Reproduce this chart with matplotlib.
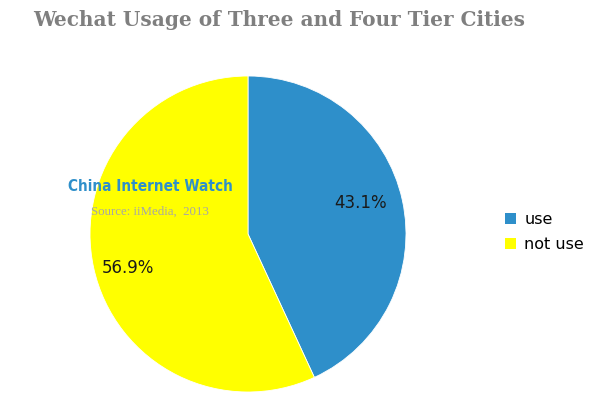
import matplotlib
matplotlib.use("Agg")
import matplotlib.pyplot as plt
from matplotlib.patches import Patch

labels = ["use", "not use"]
values = [43.1, 56.9]
colors = ["#2E8FCA", "#FFFF00"]

fig = plt.figure(figsize=(6, 4.11), dpi=100)
W, H = 600, 411

# pie axes: center (248, 234), radius 158 in pixel terms
cx, cy, r = 248, 234, 158
ax = fig.add_axes([(cx - r) / W, 1 - (cy + r) / H, 2 * r / W, 2 * r / H])
wedges, _ = ax.pie(values, colors=colors, startangle=90, counterclock=False,
                   wedgeprops=dict(linewidth=0.6, edgecolor="white"))
ax.set_aspect("equal")
ax.set_xlim(-1, 1)
ax.set_ylim(-1, 1)

# percentage labels
label_pos = [(361, 203), (128, 268)]
for (px, py), v in zip(label_pos, values):
    fig.text(px / W, 1 - py / H, f"{v}%", ha="center", va="center",
             fontsize=12, color="#1a1a1a", family="DejaVu Sans")

fig.text(279 / W, 1 - 20 / H, "Wechat Usage of Three and Four Tier Cities",
         ha="center", va="center", fontsize=14.4, fontweight="bold",
         color="#7f7f7f", family="DejaVu Serif")

fig.text(150 / W, 1 - 186 / H, "China Internet Watch", ha="center", va="center",
         fontsize=11, fontweight="bold", fontstretch="condensed",
         color="#2E8FCA", family="DejaVu Sans")
fig.text(150 / W, 1 - 212 / H, "Source: iiMedia,  2013", ha="center", va="center",
         fontsize=9.3, color="#a6a6a6", family="Liberation Serif")

handles = [Patch(facecolor=c, edgecolor="none") for c in colors]
fig.legend(handles, labels, loc="center left", bbox_to_anchor=(497 / W, 1 - 232 / H),
           frameon=False, fontsize=11.5, handlelength=0.7, handleheight=0.7,
           handletextpad=0.5, labelspacing=0.6, borderpad=0)

fig.savefig("out.png", dpi=100, facecolor="white")
